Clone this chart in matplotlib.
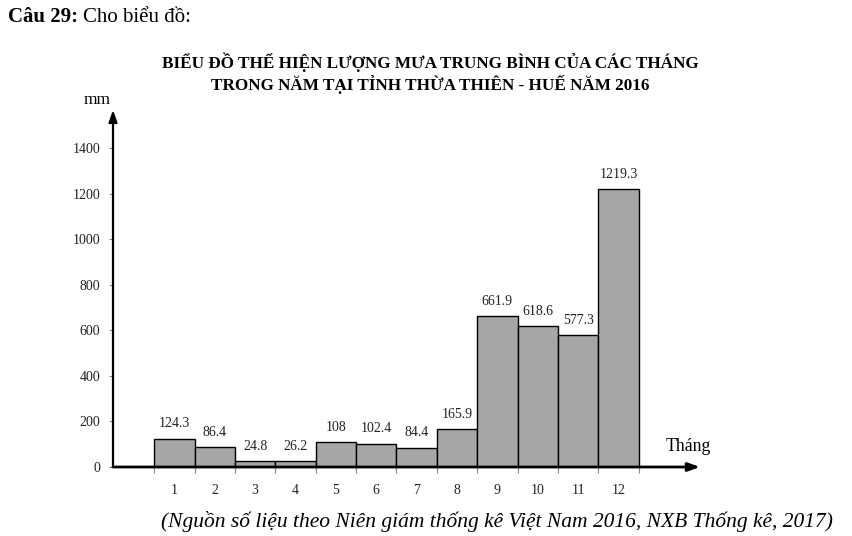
import numpy as np
import matplotlib.pyplot as plt

plt.rcParams['font.family'] = ['Liberation Serif', 'DejaVu Serif']

months = [1, 2, 3, 4, 5, 6, 7, 8, 9, 10, 11, 12]
rain = [124.3, 86.4, 24.8, 26.2, 108, 102.4, 84.4, 165.9, 661.9, 618.6, 577.3, 1219.3]
labels = ['124.3', '86.4', '24.8', '26.2', '108', '102.4', '84.4', '165.9',
          '661.9', '618.6', '577.3', '1219.3']
yticks = [0, 200, 400, 600, 800, 1000, 1200, 1400]

W, H = 853, 536
fig = plt.figure(figsize=(W / 100, H / 100), dpi=100)
ax = fig.add_axes([113 / W, 1 - 467 / H, (700 - 113) / W, (467 - 110) / H])

ax.bar(months, rain, width=1.0, color='#a6a6a6', edgecolor='black', linewidth=1.0, zorder=2)
for m, v, s in zip(months, rain, labels):
    ax.annotate(s, (m, v), xytext=(0, 6), textcoords='offset points',
                ha='center', va='bottom', fontsize=10, color='#222222')

ax.set_xlim(-0.52, 14.02)
ax.set_ylim(0, 1567)

for s in ax.spines.values():
    s.set_visible(False)

# axes with arrows
ax.annotate('', xy=(1.0, 0), xycoords='axes fraction', xytext=(0, 0),
            arrowprops=dict(arrowstyle='-|>,head_length=0.7,head_width=0.25',
                            lw=2, color='black', shrinkA=0, shrinkB=0))
ax.annotate('', xy=(0, 1.0), xycoords='axes fraction', xytext=(0, 0),
            arrowprops=dict(arrowstyle='-|>,head_length=0.7,head_width=0.25',
                            lw=1.6, color='black', shrinkA=0, shrinkB=0))

ax.set_yticks(yticks)
ax.set_yticklabels([str(t) for t in yticks], fontsize=10, color='#222222')
ax.tick_params(axis='y', length=3, width=0.8, color='#888888', pad=6)

edges = np.arange(0.5, 13.0, 1.0)
ax.set_xticks(edges)
ax.set_xticklabels([])
ax.set_xticks(months, minor=True)
ax.set_xticklabels([str(m) for m in months], minor=True, fontsize=10, color='#222222')
ax.tick_params(axis='x', which='major', length=4, width=0.8, color='#888888')
ax.tick_params(axis='x', which='minor', length=0, pad=12)

ax.text(-0.92, 1.028, 'mm', transform=ax.get_xaxis_transform(), ha='center', va='center',
        fontsize=12.5, clip_on=False)
ax.text(13.18, 92, 'Tháng', ha='left', va='center', fontsize=12.8)

fig.text(8 / W, 1 - 17 / H, 'Câu 29:', fontsize=15, fontweight='bold', va='center', ha='left')
fig.text(83 / W, 1 - 17 / H, 'Cho biểu đồ:', fontsize=15, va='center', ha='left')

fig.text(430 / W, 1 - 62 / H, 'BIỂU ĐỒ THỂ HIỆN LƯỢNG MƯA TRUNG BÌNH CỦA CÁC THÁNG',
         fontsize=12.3, fontweight='bold', ha='center', va='center')
fig.text(430 / W, 1 - 85 / H, 'TRONG NĂM TẠI TỈNH THỪA THIÊN - HUẾ NĂM 2016',
         fontsize=12.3, fontweight='bold', ha='center', va='center')

fig.text(833 / W, 1 - 521 / H,
         '(Nguồn số liệu theo Niên giám thống kê Việt Nam 2016, NXB Thống kê, 2017)',
         fontsize=15.5, style='italic', ha='right', va='center')

fig.savefig('out.png', dpi=100)
